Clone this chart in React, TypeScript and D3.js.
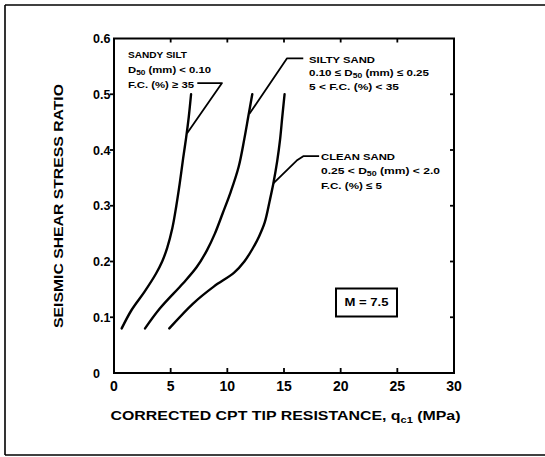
import React from "react";
import * as d3 from "d3";

const xTicks = [0, 5, 10, 15, 20, 25, 30];
const yTicks = [0, 0.1, 0.2, 0.3, 0.4, 0.5, 0.6];

const sandySilt: [number, number][] = [
  [0.68, 0.08], [1.55, 0.113], [2.7, 0.146], [3.7, 0.178], [4.25, 0.2], [4.7, 0.225],
  [5.15, 0.26], [5.5, 0.3], [5.8, 0.34], [6.1, 0.385], [6.35, 0.42], [6.6, 0.46], [6.8, 0.5],
];
const siltySand: [number, number][] = [
  [2.74, 0.08], [4.06, 0.116], [6.1, 0.161], [7.3, 0.19], [8.2, 0.22], [8.9, 0.25],
  [9.6, 0.287], [10.3, 0.325], [11.0, 0.37], [11.5, 0.42], [11.85, 0.46], [12.2, 0.5],
];
const cleanSand: [number, number][] = [
  [4.88, 0.08], [7.0, 0.125], [8.8, 0.155], [10.6, 0.18], [11.5, 0.2], [12.2, 0.222],
  [12.8, 0.245], [13.3, 0.27], [13.75, 0.31], [14.06, 0.34], [14.4, 0.38], [14.65, 0.418],
  [14.85, 0.46], [15.05, 0.5],
];

const leaderSandySilt: [number, number][] = [[7.35, 0.52], [9.53, 0.52], [6.45, 0.43]];
const leaderSiltySand: [number, number][] = [[16.7, 0.5645], [15.27, 0.5645], [11.95, 0.465]];
const leaderCleanSand: [number, number][] = [[18.1, 0.389], [16.7, 0.389], [16.12, 0.381], [14.06, 0.34]];

const FONT = "'Liberation Sans', Arial, Helvetica, sans-serif";

export default function App() {
  const x = d3.scaleLinear().domain([0, 30]).range([114, 454]);
  const y = d3.scaleLinear().domain([0, 0.6]).range([373, 38.5]);
  const curve = d3.line<[number, number]>().x(d => x(d[0])).y(d => y(d[1])).curve(d3.curveCatmullRom.alpha(0.5));
  const straight = d3.line<[number, number]>().x(d => x(d[0])).y(d => y(d[1]));

  const ann = { fontFamily: FONT, fontWeight: 700, fontSize: 9.5, fill: "#000" } as const;
  const sub = { fontSize: 7 } as const;

  return (
    <svg width={545} height={457} style={{ position: "absolute", left: 0, top: 0, background: "#fff" }}>
      {/* outer frame */}
      <line x1={5} y1={5} x2={545} y2={5} stroke="#000" strokeWidth={1.6} />
      <line x1={5} y1={5} x2={5} y2={455} stroke="#000" strokeWidth={1.6} />
      <line x1={5} y1={455} x2={545} y2={455} stroke="#000" strokeWidth={1.4} />

      {/* plot box */}
      <rect x={x(0)} y={y(0.6)} width={x(30) - x(0)} height={y(0) - y(0.6)} fill="none" stroke="#000" strokeWidth={2} />

      {xTicks.filter(t => t > 0 && t < 30).map(t => (
        <g key={"xt" + t}>
          <line x1={x(t)} x2={x(t)} y1={y(0)} y2={y(0) - 5} stroke="#000" strokeWidth={1.8} />
          <line x1={x(t)} x2={x(t)} y1={y(0.6)} y2={y(0.6) + 4} stroke="#000" strokeWidth={1.8} />
        </g>
      ))}
      {yTicks.filter(t => t > 0 && t < 0.6).map(t => (
        <g key={"yt" + t}>
          <line x1={x(0)} x2={x(0) - 4} y1={y(t)} y2={y(t)} stroke="#000" strokeWidth={1.8} />
          <line x1={x(30)} x2={x(30) - 4} y1={y(t)} y2={y(t)} stroke="#000" strokeWidth={1.8} />
        </g>
      ))}

      {xTicks.map(t => (
        <text key={"xl" + t} x={x(t)} y={391} textAnchor="middle" fontFamily={FONT} fontWeight={700} fontSize={14}>
          {String(t)}
        </text>
      ))}
      {yTicks.map(t => (
        <text key={"yl" + t} x={93} y={y(t) + 4.5} textAnchor="start" fontFamily={FONT} fontWeight={700} fontSize={12.5}>
          {t === 0 ? "0" : t.toFixed(1)}
        </text>
      ))}

      {/* axis titles */}
      <text x={110.5} y={419.5} fontFamily={FONT} fontWeight={700} fontSize={13} textLength={350} lengthAdjust="spacingAndGlyphs">
        CORRECTED CPT TIP RESISTANCE, q<tspan fontSize={9} dy={3}>c1</tspan><tspan dy={-3}> (MPa)</tspan>
      </text>
      <text transform="translate(62.7,206) rotate(-90)" textAnchor="middle" fontFamily={FONT} fontWeight={700} fontSize={13} textLength={244} lengthAdjust="spacingAndGlyphs">
        SEISMIC SHEAR STRESS RATIO
      </text>

      {/* curves */}
      {[sandySilt, siltySand, cleanSand].map((d, i) => (
        <path key={"c" + i} d={curve(d) || ""} fill="none" stroke="#000" strokeWidth={2.4} strokeLinecap="round" />
      ))}

      {/* leaders */}
      {[leaderSandySilt, leaderSiltySand, leaderCleanSand].map((d, i) => (
        <path key={"l" + i} d={straight(d) || ""} fill="none" stroke="#000" strokeWidth={1.8} strokeLinejoin="round" />
      ))}

      {/* Sandy silt label */}
      <text x={128} y={58} {...ann} textLength={59} lengthAdjust="spacingAndGlyphs">SANDY SILT</text>
      <text x={128} y={73} {...ann} textLength={83} lengthAdjust="spacingAndGlyphs">
        D<tspan {...sub} dy={2}>50</tspan><tspan dy={-2}> (mm) &lt; 0.10</tspan>
      </text>
      <text x={128} y={88} {...ann} textLength={66} lengthAdjust="spacingAndGlyphs">F.C. (%) ≥ 35</text>

      {/* Silty sand label */}
      <text x={309} y={62.5} {...ann} textLength={66} lengthAdjust="spacingAndGlyphs">SILTY SAND</text>
      <text x={309} y={76} {...ann} textLength={120} lengthAdjust="spacingAndGlyphs">
        0.10 ≤ D<tspan {...sub} dy={2}>50</tspan><tspan dy={-2}> (mm) ≤ 0.25</tspan>
      </text>
      <text x={309} y={89.5} {...ann} textLength={90} lengthAdjust="spacingAndGlyphs">5 &lt; F.C. (%) &lt; 35</text>

      {/* Clean sand label */}
      <text x={321} y={160} {...ann} textLength={74} lengthAdjust="spacingAndGlyphs">CLEAN SAND</text>
      <text x={321} y={174} {...ann} textLength={119} lengthAdjust="spacingAndGlyphs">
        0.25 &lt; D<tspan {...sub} dy={2}>50</tspan><tspan dy={-2}> (mm) &lt; 2.0</tspan>
      </text>
      <text x={321} y={188.5} {...ann} textLength={61} lengthAdjust="spacingAndGlyphs">F.C. (%) ≤ 5</text>

      {/* M = 7.5 box */}
      <rect x={336} y={288.5} width={61} height={28} fill="#fff" stroke="#000" strokeWidth={2} />
      <text x={366.5} y={306} textAnchor="middle" fontFamily={FONT} fontWeight={700} fontSize={10.5} textLength={44} lengthAdjust="spacingAndGlyphs">M = 7.5</text>
    </svg>
  );
}
